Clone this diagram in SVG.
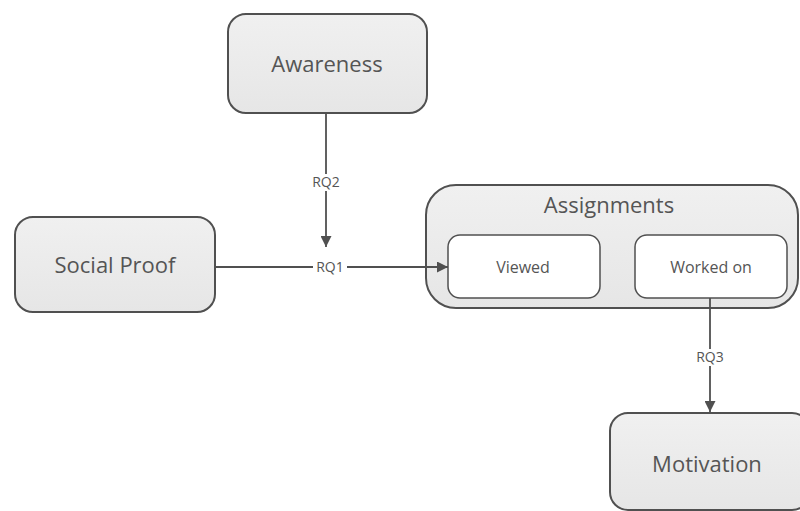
<svg xmlns="http://www.w3.org/2000/svg" width="800" height="511" viewBox="0 0 800 511">
<defs>
<marker id="ah" viewBox="0 0 10 10" refX="10" refY="5" markerWidth="11" markerHeight="11" markerUnits="userSpaceOnUse" orient="auto">
<path d="M0,0 L10,5 L0,10 z" fill="#505050"/>
</marker>
<linearGradient id="g" x1="0" y1="0" x2="0" y2="1">
<stop offset="0" stop-color="#f0f0f0"/>
<stop offset="1" stop-color="#e6e6e6"/>
</linearGradient>
</defs>
<style>
.box{fill:url(#g);stroke:#505050;stroke-width:2}
.inner{fill:#ffffff;stroke:#505050;stroke-width:1.5}
.big{font-family:"Open Sans","Liberation Sans",sans-serif;font-size:22px;fill:#555555;text-anchor:middle}
.small{font-family:"Open Sans","Liberation Sans",sans-serif;font-size:16px;fill:#555555;text-anchor:middle}
.lbl{font-family:"Open Sans","Liberation Sans",sans-serif;font-size:14px;fill:#555555;text-anchor:middle}
.edge{stroke:#505050;stroke-width:1.8;fill:none}
</style>
<rect width="800" height="511" fill="#ffffff"/>
<g id="awareness">
<rect class="box" x="228" y="14" width="199" height="99" rx="18"/>
<text class="big" x="327" y="72">Awareness</text>
</g>
<g id="socialproof">
<rect class="box" x="15" y="217" width="200" height="95" rx="18"/>
<text class="big" x="115" y="273">Social Proof</text>
</g>
<g id="assignments">
<rect class="box" x="426" y="185" width="372" height="123" rx="30"/>
<text class="big" x="609" y="213">Assignments</text>
</g>
<g id="viewed">
<rect class="inner" x="448" y="235" width="152" height="63" rx="12"/>
<text class="small" x="523" y="273">Viewed</text>
</g>
<g id="workedon">
<rect class="inner" x="635" y="235" width="152" height="63" rx="12"/>
<text class="small" x="711" y="273">Worked on</text>
</g>
<g id="motivation">
<rect class="box" x="610" y="413" width="200" height="97" rx="18"/>
<text class="big" x="707" y="472">Motivation</text>
</g>
<g id="connectors">
<line class="edge" x1="326" y1="113" x2="326" y2="247" marker-end="url(#ah)"/>
<line class="edge" x1="215" y1="267" x2="448" y2="267" marker-end="url(#ah)"/>
<line class="edge" x1="710" y1="298" x2="710" y2="412" marker-end="url(#ah)"/>
<rect x="308" y="174" width="36" height="17" fill="#ffffff"/>
<text class="lbl" x="326" y="187">RQ2</text>
<rect x="313" y="260" width="34" height="15" fill="#ffffff"/>
<text class="lbl" x="330" y="272">RQ1</text>
<rect x="692" y="349" width="36" height="17" fill="#ffffff"/>
<text class="lbl" x="710" y="362">RQ3</text>
</g>
</svg>
